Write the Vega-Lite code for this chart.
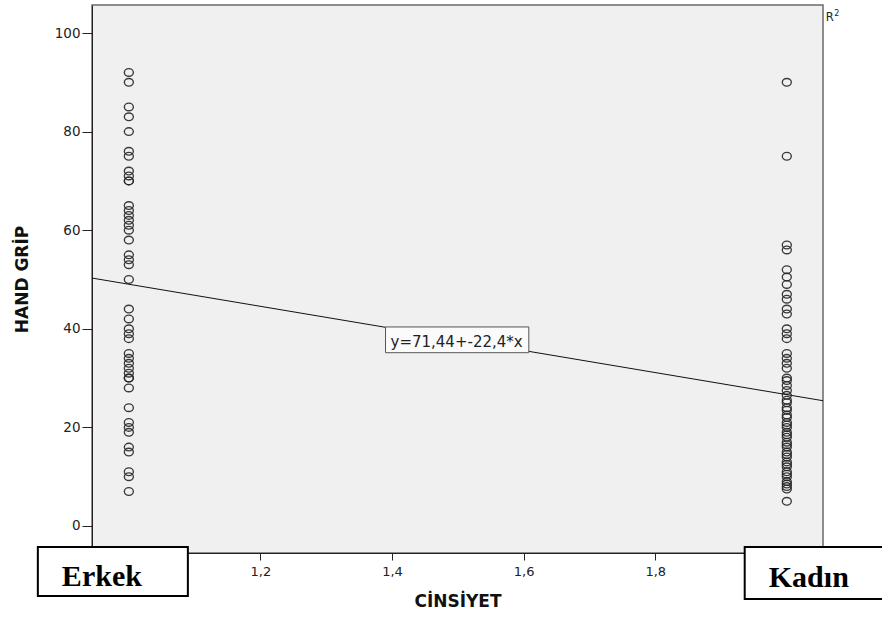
{
  "$schema": "https://vega.github.io/schema/vega-lite/v6.json",
  "width": 731,
  "height": 548,
  "autosize": {"type": "none"},
  "padding": {"left": 92, "top": 5, "right": 59, "bottom": 66},
  "background": "white",
  "config": {
    "font": "DejaVu Sans",
    "view": {"fill": "#f0f0f0", "stroke": "#6a6a6a", "strokeWidth": 1.5}
  },
  "datasets": {
    "grip": [
      {"sex": 1, "grip": 92}, {"sex": 1, "grip": 90}, {"sex": 1, "grip": 85}, {"sex": 1, "grip": 83},
      {"sex": 1, "grip": 80}, {"sex": 1, "grip": 76}, {"sex": 1, "grip": 75}, {"sex": 1, "grip": 72},
      {"sex": 1, "grip": 71}, {"sex": 1, "grip": 70}, {"sex": 1, "grip": 70}, {"sex": 1, "grip": 65},
      {"sex": 1, "grip": 64}, {"sex": 1, "grip": 63}, {"sex": 1, "grip": 62}, {"sex": 1, "grip": 61},
      {"sex": 1, "grip": 60}, {"sex": 1, "grip": 58}, {"sex": 1, "grip": 55}, {"sex": 1, "grip": 54},
      {"sex": 1, "grip": 53}, {"sex": 1, "grip": 50}, {"sex": 1, "grip": 44}, {"sex": 1, "grip": 42},
      {"sex": 1, "grip": 40}, {"sex": 1, "grip": 39}, {"sex": 1, "grip": 38}, {"sex": 1, "grip": 35},
      {"sex": 1, "grip": 34}, {"sex": 1, "grip": 33}, {"sex": 1, "grip": 32}, {"sex": 1, "grip": 31},
      {"sex": 1, "grip": 30}, {"sex": 1, "grip": 30}, {"sex": 1, "grip": 28}, {"sex": 1, "grip": 24},
      {"sex": 1, "grip": 21}, {"sex": 1, "grip": 20}, {"sex": 1, "grip": 19}, {"sex": 1, "grip": 16},
      {"sex": 1, "grip": 15}, {"sex": 1, "grip": 11}, {"sex": 1, "grip": 10}, {"sex": 1, "grip": 7},
      {"sex": 2, "grip": 90}, {"sex": 2, "grip": 75}, {"sex": 2, "grip": 57}, {"sex": 2, "grip": 56},
      {"sex": 2, "grip": 52}, {"sex": 2, "grip": 50.5}, {"sex": 2, "grip": 49}, {"sex": 2, "grip": 47},
      {"sex": 2, "grip": 46}, {"sex": 2, "grip": 44}, {"sex": 2, "grip": 43}, {"sex": 2, "grip": 40},
      {"sex": 2, "grip": 39}, {"sex": 2, "grip": 38}, {"sex": 2, "grip": 35}, {"sex": 2, "grip": 34},
      {"sex": 2, "grip": 33}, {"sex": 2, "grip": 32}, {"sex": 2, "grip": 30}, {"sex": 2, "grip": 29.5},
      {"sex": 2, "grip": 28.5}, {"sex": 2, "grip": 27.5}, {"sex": 2, "grip": 26.5}, {"sex": 2, "grip": 25.5},
      {"sex": 2, "grip": 25}, {"sex": 2, "grip": 24}, {"sex": 2, "grip": 23.5}, {"sex": 2, "grip": 22.5},
      {"sex": 2, "grip": 22}, {"sex": 2, "grip": 21}, {"sex": 2, "grip": 20.5}, {"sex": 2, "grip": 20},
      {"sex": 2, "grip": 19}, {"sex": 2, "grip": 18.5}, {"sex": 2, "grip": 18}, {"sex": 2, "grip": 17},
      {"sex": 2, "grip": 16.5}, {"sex": 2, "grip": 16}, {"sex": 2, "grip": 15}, {"sex": 2, "grip": 14.5},
      {"sex": 2, "grip": 14}, {"sex": 2, "grip": 13}, {"sex": 2, "grip": 12.5}, {"sex": 2, "grip": 12},
      {"sex": 2, "grip": 11}, {"sex": 2, "grip": 10.5}, {"sex": 2, "grip": 10}, {"sex": 2, "grip": 9},
      {"sex": 2, "grip": 8.5}, {"sex": 2, "grip": 8}, {"sex": 2, "grip": 7.5}, {"sex": 2, "grip": 5}
    ],
    "fit": [
      {"sex": 0.944, "grip": 50.29},
      {"sex": 2.055, "grip": 25.41}
    ],
    "equation": [
      {"sex": 1.3901, "sex2": 1.6079, "grip": 40.37, "grip2": 35.15, "tx": 1.3977, "ty": 36.31, "text": "y=71,44+-22,4*x"}
    ],
    "groups": [
      {"sex": 0.8617, "sex2": 1.0897, "grip": -4.26, "grip2": -14.2, "tx": 0.959, "ty": -12.17, "label": "Erkek"},
      {"sex": 1.936, "sex2": 2.147, "grip": -4.26, "grip2": -14.8, "tx": 2.0334, "ty": -12.37, "label": "Kadın"}
    ],
    "legendNote": [
      {"sex": 2.0593, "grip": 102.5, "text": "R", "sup": "2"}
    ]
  },
  "layer": [
    {
      "data": {"name": "grip"},
      "mark": {
        "type": "point",
        "shape": "M-1,0A1,0.85 0 1,1 1,0A1,0.85 0 1,1 -1,0Z",
        "size": 81,
        "filled": false,
        "stroke": "#262626",
        "strokeWidth": 1.35,
        "opacity": 0.9
      },
      "encoding": {
        "x": {
          "field": "sex",
          "type": "quantitative",
          "scale": {"domain": [0.944, 2.055], "nice": false, "zero": false},
          "axis": {
            "values": [1.2, 1.4, 1.6, 1.8],
            "labelExpr": "replace(format(datum.value, '.1f'), '.', ',')",
            "title": "CİNSİYET",
            "titleFontSize": 17,
            "titleFontWeight": "bold",
            "titleColor": "#111111",
            "titlePadding": 15,
            "labelFontSize": 13,
            "labelColor": "#222222",
            "labelPadding": 5,
            "tickSize": 7,
            "tickColor": "#222222",
            "domainColor": "#222222",
            "grid": false
          }
        },
        "y": {
          "field": "grip",
          "type": "quantitative",
          "scale": {"domain": [-5.48, 105.68], "nice": false, "zero": false},
          "axis": {
            "values": [0, 20, 40, 60, 80, 100],
            "title": "HAND GRİP",
            "titleFontSize": 17,
            "titleFontWeight": "bold",
            "titleColor": "#111111",
            "titlePadding": 23,
            "labelFontSize": 13.5,
            "labelColor": "#222222",
            "labelPadding": 2,
            "tickSize": 10,
            "tickColor": "#222222",
            "domainColor": "#222222",
            "grid": false
          }
        }
      }
    },
    {
      "data": {"name": "fit"},
      "mark": {"type": "line", "color": "#111111", "strokeWidth": 1},
      "encoding": {
        "x": {"field": "sex", "type": "quantitative"},
        "y": {"field": "grip", "type": "quantitative"}
      }
    },
    {
      "data": {"name": "equation"},
      "mark": {"type": "rect", "fill": "#fbfbfb", "stroke": "#555555", "strokeWidth": 1},
      "encoding": {
        "x": {"field": "sex", "type": "quantitative"},
        "x2": {"field": "sex2"},
        "y": {"field": "grip", "type": "quantitative"},
        "y2": {"field": "grip2"}
      }
    },
    {
      "data": {"name": "equation"},
      "mark": {"type": "text", "align": "left", "baseline": "alphabetic", "fontSize": 15, "color": "#222222"},
      "encoding": {
        "x": {"field": "tx", "type": "quantitative"},
        "y": {"field": "ty", "type": "quantitative"},
        "text": {"field": "text"}
      }
    },
    {
      "data": {"name": "groups"},
      "mark": {"type": "rect", "fill": "white", "stroke": "#000000", "strokeWidth": 2},
      "encoding": {
        "x": {"field": "sex", "type": "quantitative"},
        "x2": {"field": "sex2"},
        "y": {"field": "grip", "type": "quantitative"},
        "y2": {"field": "grip2"}
      }
    },
    {
      "data": {"name": "groups"},
      "mark": {"type": "text", "align": "center", "baseline": "alphabetic", "font": "Liberation Serif", "fontWeight": "bold", "fontSize": 30, "color": "#000000"},
      "encoding": {
        "x": {"field": "tx", "type": "quantitative"},
        "y": {"field": "ty", "type": "quantitative"},
        "text": {"field": "label"}
      }
    },
    {
      "data": {"name": "legendNote"},
      "mark": {"type": "text", "align": "left", "baseline": "alphabetic", "fontSize": 11.5, "color": "#222222"},
      "encoding": {
        "x": {"field": "sex", "type": "quantitative"},
        "y": {"field": "grip", "type": "quantitative"},
        "text": {"field": "text"}
      }
    },
    {
      "data": {"name": "legendNote"},
      "mark": {"type": "text", "align": "left", "baseline": "alphabetic", "fontSize": 8, "dx": 8.5, "dy": -4.5, "color": "#222222"},
      "encoding": {
        "x": {"field": "sex", "type": "quantitative"},
        "y": {"field": "grip", "type": "quantitative"},
        "text": {"field": "sup"}
      }
    }
  ]
}
